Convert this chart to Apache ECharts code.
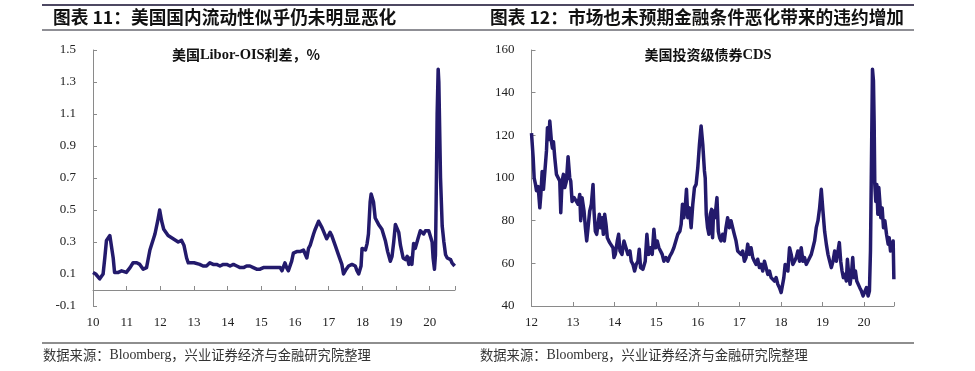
<!DOCTYPE html>
<html>
<head>
<meta charset="utf-8">
<script src="https://cdn.jsdelivr.net/npm/echarts@6/dist/echarts.min.js"></script>
<style>
html,body{margin:0;padding:0;background:#fff;}
#c{width:975px;height:371px;}
</style>
</head>
<body>
<div id="c"></div>
<script>
// ---------- Data ----------
const leftTitle = '图表 11：美国国内流动性似乎仍未明显恶化';
const rightTitle = '图表 12：市场也未预期金融条件恶化带来的违约增加';
const leftSubtitleParts = ['美国', 'Libor-OIS', '利差，%'];
const rightSubtitleParts = ['美国投资级债券', 'CDS'];
const sourceParts = ['数据来源：', 'Bloomberg', '，兴业证券经济与金融研究院整理'];

const leftTickYears = [2010, 2011, 2012, 2013, 2014, 2015, 2016, 2017, 2018, 2019, 2020];
const leftTickLabels = ['10', '11', '12', '13', '14', '15', '16', '17', '18', '19', '20'];
const rightTickYears = [2012, 2013, 2014, 2015, 2016, 2017, 2018, 2019, 2020];
const rightTickLabels = ['12', '13', '14', '15', '16', '17', '18', '19', '20'];

// Libor-OIS spread (%), decimal year
const liborYears = [2010.00, 2010.08, 2010.20, 2010.30, 2010.35, 2010.40, 2010.50, 2010.55, 2010.60, 2010.64, 2010.75, 2010.85, 2010.99, 2011.10, 2011.19, 2011.30, 2011.39, 2011.49, 2011.59, 2011.69, 2011.84, 2011.92, 2011.98, 2012.04, 2012.10, 2012.23, 2012.38, 2012.53, 2012.63, 2012.70, 2012.78, 2012.83, 2013.00, 2013.17, 2013.27, 2013.37, 2013.47, 2013.57, 2013.67, 2013.77, 2013.87, 2013.97, 2014.07, 2014.17, 2014.27, 2014.37, 2014.47, 2014.56, 2014.66, 2014.76, 2014.86, 2014.96, 2015.06, 2015.16, 2015.30, 2015.46, 2015.56, 2015.61, 2015.65, 2015.70, 2015.75, 2015.80, 2015.85, 2015.90, 2015.95, 2016.05, 2016.15, 2016.25, 2016.30, 2016.35, 2016.40, 2016.45, 2016.55, 2016.60, 2016.70, 2016.75, 2016.80, 2016.90, 2016.94, 2017.04, 2017.09, 2017.19, 2017.29, 2017.39, 2017.44, 2017.52, 2017.59, 2017.69, 2017.79, 2017.84, 2017.89, 2017.96, 2017.99, 2018.09, 2018.14, 2018.18, 2018.23, 2018.26, 2018.33, 2018.38, 2018.48, 2018.58, 2018.68, 2018.75, 2018.83, 2018.88, 2018.93, 2018.98, 2019.01, 2019.08, 2019.13, 2019.21, 2019.28, 2019.33, 2019.38, 2019.42, 2019.47, 2019.52, 2019.57, 2019.65, 2019.72, 2019.77, 2019.82, 2019.87, 2019.92, 2019.97, 2020.02, 2020.07, 2020.10, 2020.14, 2020.17, 2020.19, 2020.22, 2020.25, 2020.27, 2020.29, 2020.32, 2020.37, 2020.42, 2020.47, 2020.52, 2020.57, 2020.62, 2020.66, 2020.70, 2020.74];
const liborValues = [0.11, 0.10, 0.07, 0.10, 0.20, 0.31, 0.34, 0.33, 0.20, 0.11, 0.11, 0.12, 0.11, 0.14, 0.17, 0.17, 0.16, 0.13, 0.14, 0.25, 0.35, 0.43, 0.50, 0.43, 0.38, 0.34, 0.32, 0.30, 0.31, 0.28, 0.20, 0.17, 0.17, 0.16, 0.15, 0.15, 0.17, 0.16, 0.16, 0.15, 0.16, 0.16, 0.15, 0.16, 0.15, 0.14, 0.14, 0.15, 0.15, 0.14, 0.13, 0.13, 0.14, 0.14, 0.14, 0.14, 0.14, 0.12, 0.13, 0.17, 0.14, 0.12, 0.13, 0.18, 0.23, 0.24, 0.24, 0.25, 0.24, 0.20, 0.26, 0.28, 0.35, 0.38, 0.43, 0.42, 0.39, 0.34, 0.32, 0.36, 0.34, 0.28, 0.22, 0.16, 0.10, 0.13, 0.15, 0.16, 0.15, 0.12, 0.10, 0.15, 0.26, 0.25, 0.29, 0.35, 0.55, 0.60, 0.55, 0.45, 0.41, 0.38, 0.31, 0.24, 0.18, 0.21, 0.30, 0.41, 0.40, 0.36, 0.28, 0.20, 0.19, 0.21, 0.16, 0.20, 0.16, 0.29, 0.26, 0.32, 0.37, 0.38, 0.35, 0.37, 0.36, 0.37, 0.38, 0.30, 0.20, 0.13, 0.22, 0.55, 1.10, 1.38, 1.30, 1.06, 0.70, 0.40, 0.30, 0.22, 0.20, 0.20, 0.19, 0.17, 0.17, 0.15];

// US investment-grade CDS, decimal year
const cdsYears = [2012.000, 2012.016, 2012.040, 2012.064, 2012.096, 2012.120, 2012.160, 2012.200, 2012.224, 2012.256, 2012.288, 2012.320, 2012.360, 2012.384, 2012.416, 2012.440, 2012.480, 2012.504, 2012.528, 2012.560, 2012.600, 2012.640, 2012.680, 2012.704, 2012.736, 2012.768, 2012.800, 2012.840, 2012.880, 2012.920, 2012.944, 2012.976, 2013.024, 2013.080, 2013.120, 2013.160, 2013.184, 2013.216, 2013.264, 2013.296, 2013.328, 2013.360, 2013.400, 2013.440, 2013.480, 2013.504, 2013.536, 2013.568, 2013.600, 2013.632, 2013.664, 2013.696, 2013.728, 2013.760, 2013.792, 2013.824, 2013.880, 2013.920, 2013.960, 2013.984, 2014.016, 2014.064, 2014.096, 2014.128, 2014.176, 2014.224, 2014.272, 2014.320, 2014.368, 2014.400, 2014.440, 2014.480, 2014.520, 2014.560, 2014.592, 2014.624, 2014.680, 2014.736, 2014.776, 2014.816, 2014.864, 2014.904, 2014.944, 2014.984, 2015.024, 2015.064, 2015.104, 2015.144, 2015.184, 2015.232, 2015.280, 2015.328, 2015.376, 2015.424, 2015.472, 2015.520, 2015.568, 2015.600, 2015.632, 2015.664, 2015.696, 2015.728, 2015.760, 2015.800, 2015.840, 2015.880, 2015.920, 2015.960, 2016.000, 2016.040, 2016.080, 2016.120, 2016.160, 2016.179, 2016.204, 2016.236, 2016.268, 2016.300, 2016.332, 2016.356, 2016.381, 2016.413, 2016.461, 2016.494, 2016.525, 2016.558, 2016.598, 2016.638, 2016.678, 2016.718, 2016.759, 2016.799, 2016.839, 2016.879, 2016.920, 2016.960, 2017.000, 2017.040, 2017.080, 2017.121, 2017.161, 2017.201, 2017.241, 2017.282, 2017.322, 2017.362, 2017.402, 2017.442, 2017.483, 2017.523, 2017.563, 2017.603, 2017.644, 2017.684, 2017.724, 2017.764, 2017.805, 2017.845, 2017.885, 2017.925, 2017.965, 2018.006, 2018.046, 2018.070, 2018.102, 2018.134, 2018.167, 2018.207, 2018.247, 2018.287, 2018.327, 2018.368, 2018.408, 2018.448, 2018.488, 2018.529, 2018.569, 2018.609, 2018.649, 2018.689, 2018.730, 2018.770, 2018.810, 2018.850, 2018.891, 2018.931, 2018.971, 2019.011, 2019.051, 2019.092, 2019.132, 2019.172, 2019.212, 2019.253, 2019.293, 2019.333, 2019.373, 2019.405, 2019.438, 2019.470, 2019.502, 2019.534, 2019.574, 2019.599, 2019.631, 2019.663, 2019.695, 2019.727, 2019.759, 2019.792, 2019.824, 2019.856, 2019.896, 2019.936, 2019.977, 2020.017, 2020.057, 2020.097, 2020.129, 2020.154, 2020.178, 2020.202, 2020.226, 2020.242, 2020.258, 2020.282, 2020.306, 2020.331, 2020.355, 2020.379, 2020.403, 2020.435, 2020.467, 2020.500, 2020.540, 2020.580, 2020.604, 2020.636, 2020.660, 2020.700, 2020.717];
const cdsValues = [121, 120.5, 109.5, 100, 97, 94, 96, 86, 92, 103, 94.7, 95.5, 112.7, 123.6, 118, 126.7, 117, 114, 117, 109.5, 101.7, 101.7, 98.6, 83.7, 98.6, 101.7, 95.5, 98.6, 110, 100, 98.6, 89, 90.8, 89, 87.7, 92.3, 80, 90.8, 84.5, 76.7, 70.5, 76.7, 84.5, 87.7, 97, 84.5, 75, 73.6, 78.3, 83, 76.7, 81.4, 73.6, 83, 78.3, 72, 69.7, 69, 67.3, 62.7, 64.2, 70.5, 73.6, 65.8, 64.2, 70.5, 67.3, 64.2, 65.8, 61, 59.5, 56.4, 59.5, 61, 66.6, 58, 57.2, 61, 73.6, 64.2, 67.3, 64.2, 76, 67.3, 70.5, 67.3, 65.8, 64.2, 61, 62.7, 61, 63.4, 65, 67.3, 70.5, 73.6, 75, 78.3, 87.7, 81.4, 86, 94.7, 81.4, 86, 76.7, 87.7, 95.5, 97, 104.8, 115.8, 124.4, 115.8, 103.3, 100, 83, 76.7, 73.6, 83, 85.3, 72, 84.5, 81.4, 90.8, 75, 72, 70.5, 73.6, 70.5, 76.7, 81.4, 76.7, 80, 76.7, 73.6, 70.5, 65.8, 65, 64.2, 65.8, 61, 62.7, 69, 64.2, 67.3, 62.7, 61, 59.5, 61.9, 58, 59.5, 56.4, 61, 58, 54.8, 56.4, 53.3, 54, 51.7, 53.3, 50.2, 48.6, 46.3, 47, 53.3, 59.5, 58, 56.4, 67.3, 64.2, 59.5, 61, 62.7, 65.8, 61, 67.3, 61, 62.7, 59.5, 61, 61, 64.2, 67.3, 70.5, 76.7, 80, 86, 94.7, 84.5, 75, 69, 64.2, 61, 58, 61, 65.8, 61, 65.8, 69.7, 61, 56.4, 53.3, 54.8, 51.7, 61.9, 54.8, 50.2, 54.8, 62.7, 53.3, 56.4, 51.7, 51.7, 48.6, 47, 44.7, 45.5, 48.6, 44.7, 47, 65.8, 108, 151, 145.5, 126.7, 97, 89, 97, 83, 95.5, 89, 81.4, 86, 76.7, 80, 73.6, 69, 72, 65.8, 67.3, 70.5, 52.5];

// ---------- Chart ----------
const serif = "'Liberation Serif','Times New Roman',serif";
const cjk = "'Noto Sans CJK SC',sans-serif";
const lineColor = '#231a6c';
const axisColor = '#8a8a8a';

const liborData = liborYears.map((y, i) => [y, liborValues[i]]);
const cdsData = cdsYears.map((y, i) => [y, cdsValues[i]]);

const leftLabelMap = {};
leftTickYears.forEach((y, i) => leftLabelMap[y] = leftTickLabels[i]);
const rightLabelMap = {};
rightTickYears.forEach((y, i) => rightLabelMap[y] = rightTickLabels[i]);

const chart = echarts.init(document.getElementById('c'), null, {renderer: 'canvas'});
const labelStyle = {color: '#222', fontFamily: serif, fontSize: 13};

const subRich = {
  c: {fontFamily: cjk, fontWeight: 'bold', fontSize: 14, fill: '#111', color: '#111'},
  l: {fontFamily: serif, fontWeight: 'bold', fontSize: 14.5, fill: '#111', color: '#111'}
};
const srcRich = {
  c: {fontFamily: cjk, fontSize: 13.3, fill: '#333', color: '#333'},
  l: {fontFamily: serif, fontSize: 13.8, fill: '#333', color: '#333'}
};
const leftSub = '{c|' + leftSubtitleParts[0] + '}{l|' + leftSubtitleParts[1] + '}{c|' + leftSubtitleParts[2] + '}';
const rightSub = '{c|' + rightSubtitleParts[0] + '}{l|' + rightSubtitleParts[1] + '}';
const srcText = '{c|' + sourceParts[0] + '}{l|' + sourceParts[1] + '}{c|' + sourceParts[2] + '}';

chart.setOption({
  animation: false,
  backgroundColor: '#fff',
  grid: [
    {left: 93, top: 50, width: 362, height: 256},
    {left: 531.5, top: 50, width: 362.5, height: 256}
  ],
  xAxis: [
    { // left chart labels at bottom
      gridIndex: 0, type: 'value', min: 2010, max: 2020.75, interval: 1, position: 'bottom',
      axisLine: {show: false, onZero: false},
      axisTick: {show: false},
      splitLine: {show: false},
      axisLabel: Object.assign({}, labelStyle, {
        margin: 10, customValues: leftTickYears,
        formatter: v => leftLabelMap[Math.round(v)] || ''
      })
    },
    { // left chart zero line with ticks
      gridIndex: 0, type: 'value', min: 2010, max: 2020.75, interval: 1, position: 'bottom',
      axisLine: {show: true, onZero: true, lineStyle: {color: axisColor, width: 1}},
      axisTick: {show: true, inside: true, length: 4, lineStyle: {color: axisColor, width: 1}},
      axisLabel: {show: false},
      splitLine: {show: false}
    },
    { // right chart
      gridIndex: 1, type: 'value', min: 2012, max: 2020.72, interval: 1, position: 'bottom',
      axisLine: {show: true, onZero: false, lineStyle: {color: axisColor, width: 1}},
      axisTick: {show: true, inside: true, length: 4, lineStyle: {color: axisColor, width: 1}},
      splitLine: {show: false},
      axisLabel: Object.assign({}, labelStyle, {
        margin: 10, customValues: rightTickYears,
        formatter: v => rightLabelMap[Math.round(v)] || ''
      })
    }
  ],
  yAxis: [
    {
      gridIndex: 0, type: 'value', min: -0.1, max: 1.5, interval: 0.2,
      axisLine: {show: true, onZero: false, lineStyle: {color: axisColor, width: 1}},
      axisTick: {show: true, inside: true, length: 4, lineStyle: {color: axisColor}},
      splitLine: {show: false},
      axisLabel: Object.assign({}, labelStyle, {margin: 17, formatter: v => (Math.round(v * 10) / 10).toFixed(1)})
    },
    {
      gridIndex: 1, type: 'value', min: 40, max: 160, interval: 20,
      axisLine: {show: true, onZero: false, lineStyle: {color: axisColor, width: 1}},
      axisTick: {show: true, inside: true, length: 4, lineStyle: {color: axisColor}},
      splitLine: {show: false},
      axisLabel: Object.assign({}, labelStyle, {margin: 17})
    }
  ],
  series: [
    {
      type: 'line', xAxisIndex: 0, yAxisIndex: 0, data: liborData,
      showSymbol: false, symbol: 'none', z: 3,
      lineStyle: {color: lineColor, width: 3.5, join: 'round'}
    },
    {
      type: 'line', xAxisIndex: 2, yAxisIndex: 1, data: cdsData,
      showSymbol: false, symbol: 'none', z: 3,
      lineStyle: {color: lineColor, width: 3.5, join: 'round'}
    }
  ],
  graphic: [
    {type: 'line', shape: {x1: 42, y1: 5, x2: 914, y2: 5}, style: {stroke: '#4d4862', lineWidth: 2}},
    {type: 'line', shape: {x1: 42, y1: 30, x2: 914, y2: 30}, style: {stroke: '#6a6a72', lineWidth: 1.5}},
    {type: 'line', shape: {x1: 42, y1: 343, x2: 914, y2: 343}, style: {stroke: '#8e8e8e', lineWidth: 2}},
    {type: 'text', x: 53, y: 17.5, style: {text: leftTitle, fill: '#111', font: 'bold 17.7px ' + cjk, textVerticalAlign: 'middle'}},
    {type: 'text', x: 490, y: 17.5, style: {text: rightTitle, fill: '#111', font: 'bold 17.7px ' + cjk, textVerticalAlign: 'middle'}},
    {type: 'text', x: 246, y: 55, style: {text: leftSub, rich: subRich, align: 'center', verticalAlign: 'middle'}},
    {type: 'text', x: 708, y: 55, style: {text: rightSub, rich: subRich, align: 'center', verticalAlign: 'middle'}},
    {type: 'text', x: 43, y: 355, style: {text: srcText, rich: srcRich, verticalAlign: 'middle'}},
    {type: 'text', x: 480, y: 355, style: {text: srcText, rich: srcRich, verticalAlign: 'middle'}}
  ]
});
</script>
</body>
</html>
